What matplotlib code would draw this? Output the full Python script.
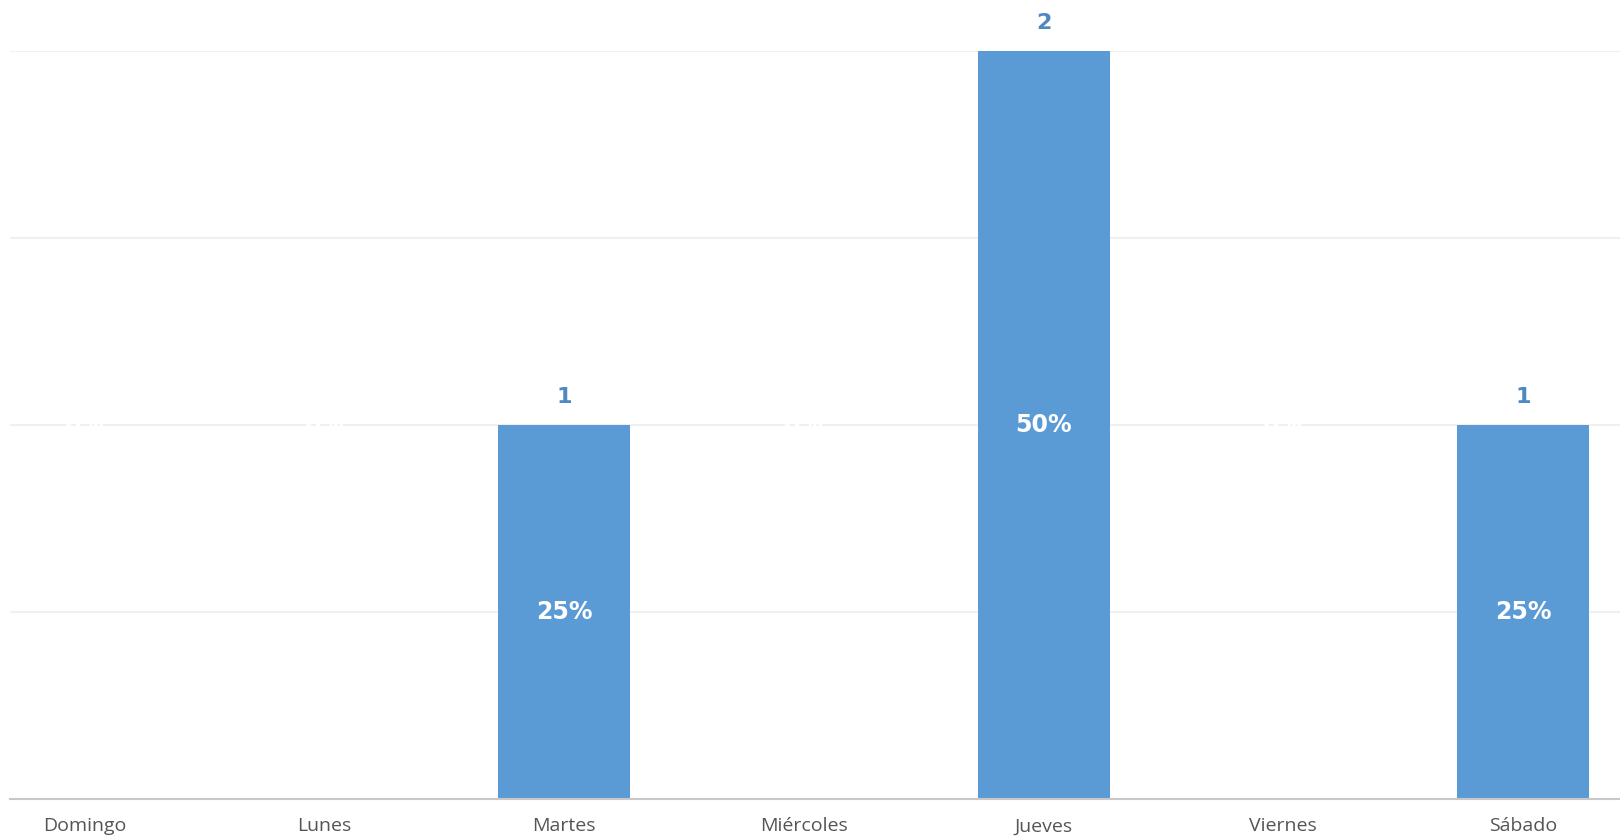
import matplotlib
matplotlib.use("Agg")
import matplotlib.pyplot as plt

categories = ["Domingo", "Lunes", "Martes", "Miércoles", "Jueves", "Viernes", "Sábado"]
values = [0, 0, 1, 0, 2, 0, 1]
percent_labels = ["0%", "0%", "25%", "0%", "50%", "0%", "25%"]

bar_color = "#5B9BD5"
value_color = "#4F87C2"

fig = plt.figure(figsize=(16.2, 8.38), dpi=100)
ax = fig.add_axes([10 / 1620, 1 - 798.6 / 838, 1610 / 1620, (798.6 - 50.6) / 838])

x = list(range(len(categories)))
ax.bar(x, values, width=0.55, color=bar_color, zorder=2)

ax.set_ylim(0, 2)
ax.set_xlim(-0.313, 6.405)
ax.set_yticks([0, 0.5, 1, 1.5, 2])
ax.yaxis.grid(True, color="#F0F0F0", linewidth=1.5, zorder=0)
ax.set_axisbelow(True)
ax.tick_params(axis="y", left=False, labelleft=False)
ax.tick_params(axis="x", bottom=False, pad=10)
ax.set_xticks(x)
ax.set_xticklabels(categories, fontsize=14, color="#555555", family="Open Sans")
for s in ["top", "right", "left"]:
    ax.spines[s].set_visible(False)
ax.spines["bottom"].set_color("#C8C8C8")
ax.spines["bottom"].set_linewidth(1.5)

for xi, v, p in zip(x, values, percent_labels):
    if v > 0:
        ax.annotate(str(v), (xi, v), xytext=(0, 20), textcoords="offset points",
                    ha="center", va="center", fontsize=16, fontweight="bold",
                    color=value_color, family="DejaVu Sans", clip_on=False)
        ax.text(xi, v / 2, p, ha="center", va="center", fontsize=17,
                fontweight="bold", color="white", family="DejaVu Sans", zorder=3)
    else:
        ax.text(xi, 1, p, ha="center", va="center", fontsize=17,
                fontweight="bold", color="white", family="DejaVu Sans", zorder=3)

fig.savefig("out.png", dpi=100, facecolor="white")
